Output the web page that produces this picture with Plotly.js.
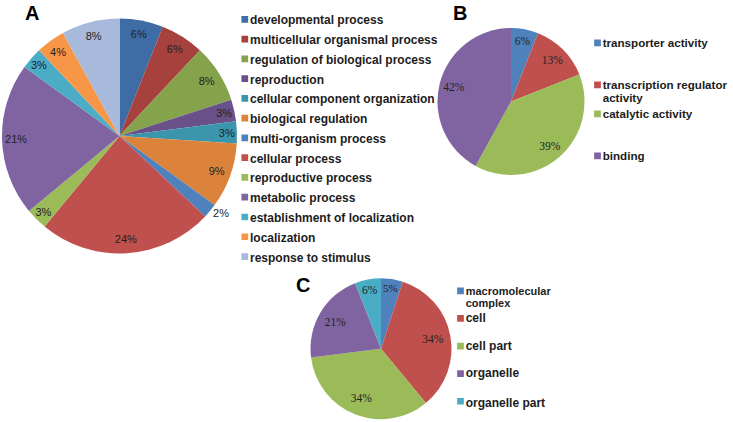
<!DOCTYPE html>
<html><head><meta charset="utf-8">
<script src="https://cdn.plot.ly/plotly-3.0.1.min.js"></script>
<style>
html,body{margin:0;padding:0;background:#fff;}
#chart{width:733px;height:422px;}
.legendpie{transform:translate(34.8px,0) scale(0.56);}
</style></head><body><div id="chart"></div>
<script>
// ---- Panel A: biological process ----
const labelsA = ['developmental process','multicellular organismal process','regulation of biological process',
  'reproduction','cellular component organization','biological regulation','multi-organism process',
  'cellular process','reproductive process','metabolic process','establishment of localization',
  'localization','response to stimulus'];
const valuesA = [6,6,8,3,3,9,2,24,3,21,3,4,8];
const colorsA = ['#3E6CA4','#A6413E','#84A34A','#6A5089','#3B96AD','#DB833B','#4F81BD',
  '#C0504D','#9BBB59','#8064A2','#4BACC6','#F79646','#A8BADB'];
const textPosA = ['inside','inside','inside','inside','inside','inside','outside',
  'inside','inside','inside','inside','inside','inside'];

// ---- Panel B: molecular function ----
const labelsB = ['transporter activity','transcription regulator<br>activity','catalytic activity','binding'];
const valuesB = [6,13,39,42];
const colorsB = ['#4F81BD','#C0504D','#9BBB59','#8064A2'];

// ---- Panel C: cellular component ----
const labelsC = ['macromolecular<br>complex','cell','cell part','organelle','organelle part'];
const valuesC = [5,34,34,21,6];
const colorsC = ['#4F81BD','#C0504D','#9BBB59','#8064A2','#4BACC6'];

// legend row heights (number of text lines each entry occupies)
const rowsB = [3, 2, 3, 2];
const rowsC = [2, 2, 2, 2, 1];

const W = 733, H = 422;
const sans = 'Liberation Sans, Arial, sans-serif';
const serif = 'Liberation Serif, Times New Roman, serif';
const ink = '#1c1c1c';

function legendLabel(label, nLines, px) {
  const parts = label.split('<br>').map(p => '<span style="font-size:' + px + 'px">' + p + '</span>');
  while (parts.length < nLines) parts.push('&nbsp;');
  return parts.join('<br>');
}
function dom(x0, x1, y0, y1) { return {x: [x0 / W, x1 / W], y: [1 - y1 / H, 1 - y0 / H]}; }

const domA = dom(2, 237, 18.5, 253.5);
const domB = dom(437.5, 584.5, 28, 175);
const domC = dom(310.5, 451.5, 278.2, 419.2);

function basePie(labels, values, colors, domain, legend) {
  return {type: 'pie', labels: labels, values: values, sort: false, direction: 'clockwise', rotation: 0,
    marker: {colors: colors, line: {width: 0}}, textinfo: 'none', domain: domain, legend: legend,
    hoverinfo: 'label+percent'};
}
function textPie(labels, values, domain, hole, font, textpos) {
  return {type: 'pie', labels: labels, values: values, sort: false, direction: 'clockwise', rotation: 0,
    hole: hole, marker: {colors: labels.map(() => 'rgba(0,0,0,0)'), line: {width: 0}},
    texttemplate: '%{value}%', textposition: textpos, insidetextorientation: 'horizontal',
    textfont: font, domain: domain, showlegend: false, hoverinfo: 'skip'};
}

const legA = labelsA.map(l => legendLabel(l, 1, 12));
const legB = labelsB.map((l, i) => legendLabel(l, rowsB[i], 11.6));
const legC = labelsC.map((l, i) => legendLabel(l, rowsC[i], l.indexOf('<br>') >= 0 ? 11 : 12));

const data = [
  basePie(legA, valuesA, colorsA, domA, 'legend'),
  textPie(legA, valuesA, domA, 0.76, {family: sans, size: 11, color: '#222'}, textPosA),
  basePie(legB, valuesB, colorsB, domB, 'legend2'),
  textPie(legB, valuesB, domB, 0.6, {family: serif, size: 11.5, color: '#222'}, 'inside'),
  basePie(legC, valuesC, colorsC, domC, 'legend3'),
  textPie(legC, valuesC, domC, 0.5, {family: serif, size: 11.5, color: '#222'}, 'inside')
];

function legendBox(xText, yTop, lineH) {
  return {x: (xText - 40) / W, xanchor: 'left', y: 1 - yTop / H, yanchor: 'top',
    font: {family: sans, size: lineH / 1.3, color: ink, weight: 'bold'}, valign: 'top',
    bgcolor: 'rgba(0,0,0,0)', borderwidth: 0, tracegroupgap: 0, itemclick: false, itemdoubleclick: false};
}

const letter = (t, x, y) => ({text: t, x: x / W, y: 1 - y / H, xref: 'paper', yref: 'paper',
  xanchor: 'center', yanchor: 'middle', showarrow: false,
  font: {family: sans, size: 20, color: '#000', weight: 'bold'}});

const layout = {
  width: W, height: H, margin: {l: 0, r: 0, t: 0, b: 0, autoexpand: false},
  paper_bgcolor: '#fff', plot_bgcolor: '#fff', showlegend: true,
  legend: legendBox(250, 4.4, 16.77),
  legend2: legendBox(602.7, 29.85, 13),
  legend3: legendBox(465.7, 278.2, 12.3),
  annotations: [letter('A', 31.5, 13), letter('B', 460, 13), letter('C', 303, 284.7)]
};

Plotly.newPlot('chart', data, layout, {displayModeBar: false, staticPlot: true});
</script></body></html>
